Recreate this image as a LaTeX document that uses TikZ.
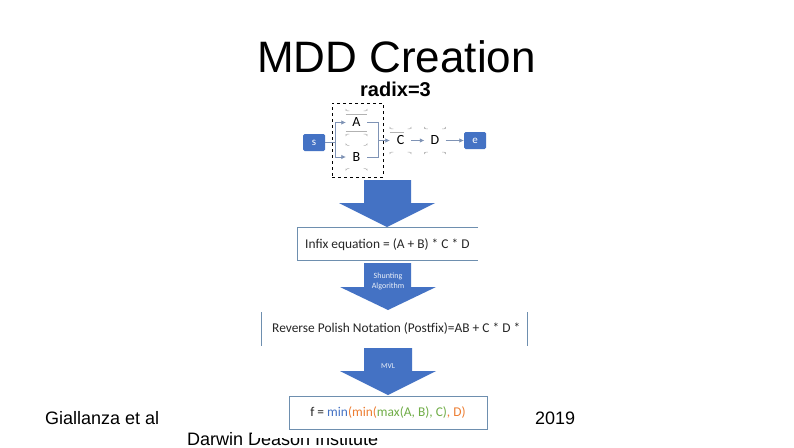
\documentclass[tikz,border=0pt]{standalone}
\usepackage{fontspec}
\setmainfont{Liberation Sans}
\newfontfamily\calfont{Carlito}
\usetikzlibrary{arrows.meta}
\definecolor{bluefill}{HTML}{4472C4}
\definecolor{boxline}{HTML}{6E8FAF}
\definecolor{conn}{HTML}{7F93B5}
\definecolor{fgreen}{HTML}{70AD47}
\definecolor{forange}{HTML}{ED7D31}
\tikzset{
  x=1pt,y=-1pt,
  bluebox/.style={fill=bluefill,draw=none,rounded corners=1.5pt,minimum width=22pt,minimum height=17pt,inner sep=0pt,text=white,font=\calfont\fontsize{11}{11}\selectfont},
  whitebox/.style={draw=none,minimum width=21pt,minimum height=17pt,inner sep=0pt,font=\calfont\fontsize{14}{14}\selectfont},
  corner/.style={draw=gray!60,line width=0.5pt},
  conline/.style={draw=conn,line width=0.7pt},
  conarrow/.style={conline,-{Latex[length=4.5pt,width=4.5pt]}},
  bigarrow/.style={fill=bluefill,draw=none},
  arrowlabel/.style={text=white!90!bluefill,font=\calfont\fontsize{8}{10}\selectfont,align=center,inner sep=0pt},
  eqline/.style={draw=boxline,line width=0.7pt},
  eqtext/.style={font=\calfont\fontsize{13.4}{15}\selectfont,inner sep=0pt,text=black!85},
  footer/.style={font=\fontsize{18}{20}\selectfont,inner sep=0pt,anchor=base west},
}
\newcommand{\cornerbits}[1]{%
  \draw[corner] ([yshift=3pt]#1.north west) -- ++(0,-1.5) arc[start angle=180,end angle=90,radius=1.5] -- ++(2,0);
  \draw[corner] ([yshift=3pt]#1.north east) -- ++(0,-1.5) arc[start angle=0,end angle=90,radius=1.5] -- ++(-2,0);
  \draw[corner] ([yshift=-3pt]#1.south west) -- ++(0,1.5) arc[start angle=180,end angle=270,radius=1.5] -- ++(2,0);
  \draw[corner] ([yshift=-3pt]#1.south east) -- ++(0,1.5) arc[start angle=0,end angle=-90,radius=1.5] -- ++(-2,0);
}
\begin{document}
\begin{tikzpicture}
\useasboundingbox (0,0) rectangle (794,447);
\fill[white] (0,0) rectangle (794,447);
% footer text, partly covered by the pasted picture
\node[footer] (inst) at (187,445) {Darwin Deason Institute};
\fill[white] (252,300) rectangle (530,438);
% title
\node[font=\fontsize{44}{46}\selectfont,inner sep=0pt] (title) at (396.5,57) {MDD Creation};
\node[font=\bfseries\fontsize{20}{22}\selectfont,inner sep=0pt] (radix) at (395.5,89) {radix=3};
% small graph
\node[bluebox] (s) at (314,142.5) {s};
\node[bluebox] (e) at (475,140.5) {e};
\node[whitebox] (A) at (356.5,122.5) {A};
\node[whitebox] (B) at (356.5,157) {B};
\node[whitebox] (C) at (400.5,140.5) {C};
\node[whitebox] (D) at (435,140.5) {D};
\cornerbits{A}\cornerbits{B}\cornerbits{C}\cornerbits{D}
\draw[corner] (A.north west) -- (A.north east);
\draw[corner] (A.south west) -- (A.south east);
\draw[corner] (C.north west) -- ++(14,0);
\draw[conline] (s.east) -- ++(10,0) coordinate (sj);
\coordinate (st) at (sj |- A.west);
\coordinate (sb) at (sj |- B.west);
\draw[conarrow] (sj) -- (st) -- (A.west);
\draw[conarrow] (sj) -- (sb) -- (B.west);
\coordinate (cj) at (378,140.5);
\draw[conline] (A.east) -- (cj |- A.east) -- (cj);
\draw[conline] (B.east) -- (cj |- B.east) -- (cj);
\draw[conarrow] (cj) -- (C.west);
\draw[conarrow] (C.east) -- (D.west);
\draw[conarrow] (D.east) -- (e.west);
\node[draw=black,dashed,line width=0.8pt,minimum width=51pt,minimum height=74pt,inner sep=0pt] (group) at (357.5,140) {};
% big arrows
\fill[bigarrow] (364,180) -- (411,180) -- (411,203) -- (435,203) -- (387,227) -- (339,203) -- (364,203) -- cycle;
\fill[bigarrow] (364,263) -- (411,263) -- (411,287) -- (436,287) -- (388,310) -- (340,287) -- (364,287) -- cycle;
\fill[bigarrow] (364,348) -- (412,348) -- (412,371) -- (436,371) -- (388,395) -- (340,371) -- (364,371) -- cycle;
\node[arrowlabel] (shunt) at (388,281) {Shunting\\Algorithm};
\node[arrowlabel,font=\calfont\fontsize{7.5}{8}\selectfont] (mvl) at (388,366) {MVL};
% infix
\coordinate (i1) at (478,227); \coordinate (i2) at (297,227);
\coordinate (i3) at (297,260); \coordinate (i4) at (478,260);
\draw[eqline] (i1) -- (i2) -- (i3) -- (i4);
\node[eqtext,anchor=west] (infix) at (305,244.5) {Infix equation = (A + B) * C * D};
% postfix
\coordinate (p1) at (261,312); \coordinate (p2) at (261,346);
\coordinate (p3) at (527,312); \coordinate (p4) at (527,346);
\draw[eqline] (p1) -- (p2);
\draw[eqline] (p3) -- (p4);
\node[eqtext,anchor=west] (rpn) at (272,329) {Reverse Polish Notation (Postfix)=AB + C * D *};
% function
\node[draw=boxline,line width=0.7pt,minimum width=198pt,minimum height=33pt,inner sep=0pt,font=\calfont\fontsize{13.4}{15}\selectfont] (f) at (388,412.5) {\textcolor{black!85}{f = }\textcolor{bluefill}{min}\textcolor{forange}{(min(}\textcolor{fgreen}{max(A, B), C)}\textcolor{forange}{, D)}};
% footer
\node[footer] (auth) at (45,424) {Giallanza et al};
\node[footer] (year) at (535,424) {2019};
\end{tikzpicture}
\end{document}
